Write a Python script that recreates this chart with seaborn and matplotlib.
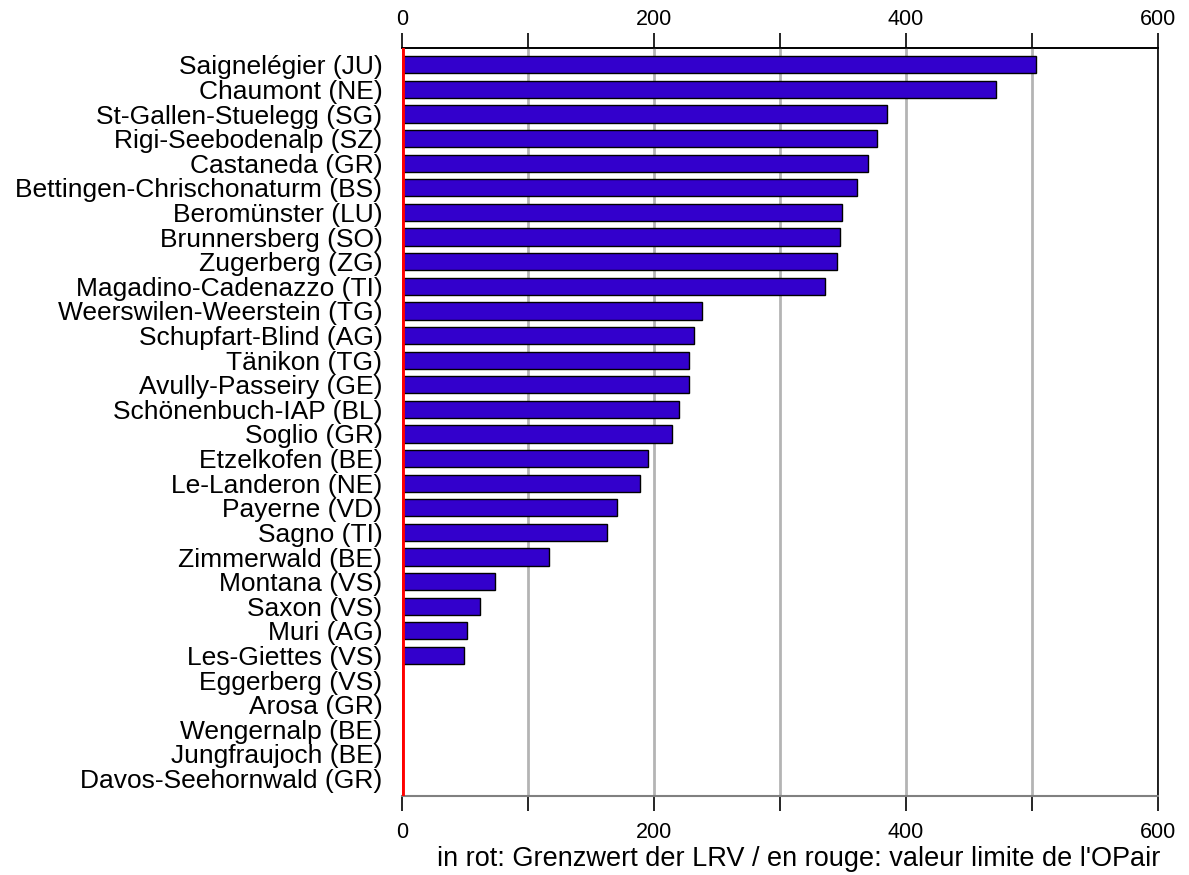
import matplotlib
matplotlib.use("Agg")
import matplotlib.pyplot as plt
import pandas as pd
import seaborn as sns
from matplotlib.ticker import MultipleLocator

STATIONS = [
    "Saignelégier (JU)", "Chaumont (NE)", "St-Gallen-Stuelegg (SG)",
    "Rigi-Seebodenalp (SZ)", "Castaneda (GR)", "Bettingen-Chrischonaturm (BS)",
    "Beromünster (LU)", "Brunnersberg (SO)", "Zugerberg (ZG)",
    "Magadino-Cadenazzo (TI)", "Weerswilen-Weerstein (TG)", "Schupfart-Blind (AG)",
    "Tänikon (TG)", "Avully-Passeiry (GE)", "Schönenbuch-IAP (BL)", "Soglio (GR)",
    "Etzelkofen (BE)", "Le-Landeron (NE)", "Payerne (VD)", "Sagno (TI)",
    "Zimmerwald (BE)", "Montana (VS)", "Saxon (VS)", "Muri (AG)",
    "Les-Giettes (VS)", "Eggerberg (VS)", "Arosa (GR)", "Wengernalp (BE)",
    "Jungfraujoch (BE)", "Davos-Seehornwald (GR)",
]
VALUES = [503, 471, 385, 377, 370, 361, 349, 348, 345, 336,
          238, 232, 228, 228, 220, 214, 195, 189, 171, 163,
          117, 74, 62, 52, 49, 0, 0, 0, 0, 0]
LIMIT = 0
XTICKS = [0, 200, 400, 600]
XLABEL = "in rot: Grenzwert der LRV / en rouge: valeur limite de l'OPair"

sns.set_style("white")
plt.rcParams["font.family"] = ["Liberation Sans", "DejaVu Sans"]
plt.rcParams["text.color"] = "black"
plt.rcParams["xtick.color"] = "black"
plt.rcParams["ytick.color"] = "black"
plt.rcParams["axes.labelcolor"] = "black"

df = pd.DataFrame({"station": STATIONS, "value": VALUES})

fig = plt.figure(figsize=(11.89, 8.75), dpi=100)
ax = fig.add_axes([0.338, 0.0906, 0.636, 0.855])

sns.barplot(data=df, x="value", y="station", orient="h", color="#3300cc",
            saturation=1, edgecolor="black", linewidth=1.0, width=0.7, ax=ax)

ax.axvline(LIMIT, color="#ff0000", lw=3.5, zorder=5)

ax.set_xlim(0, 600)
ax.set_ylim(len(STATIONS) - 0.3, -0.7)
ax.set_xticks(XTICKS)
ax.xaxis.set_minor_locator(MultipleLocator(100))
ax.tick_params(axis="x", which="both", top=False, bottom=True, labeltop=False,
               labelbottom=True, length=11, width=1.2, direction="out",
               labelsize=15.5, color="black", pad=8)
ax.tick_params(axis="y", length=0, labelsize=19, pad=14)
ax.grid(axis="x", which="both", color="#b4b4b4", lw=2.0)
ax.grid(axis="y", visible=False)
ax.set_axisbelow(True)

# top axis mirrors the bottom scale
top = ax.secondary_xaxis("top")
top.set_xticks(XTICKS)
top.xaxis.set_minor_locator(MultipleLocator(100))
top.tick_params(axis="x", which="both", length=11, width=1.2, direction="out",
                labelsize=15.5, color="black", pad=1.5)
top.spines["top"].set_color("black")
top.spines["top"].set_linewidth(1.2)

ax.spines["top"].set_color("black")
ax.spines["top"].set_linewidth(1.2)
ax.spines["right"].set_color("black")
ax.spines["right"].set_linewidth(1.2)
ax.spines["bottom"].set_color("#808080")
ax.spines["bottom"].set_linewidth(1.5)
ax.spines["left"].set_visible(False)

ax.set_ylabel("")
ax.set_xlabel(XLABEL, fontsize=19.5, labelpad=0)
ax.xaxis.set_label_coords(0.525, -0.067)

fig.savefig("out.png", dpi=100)
